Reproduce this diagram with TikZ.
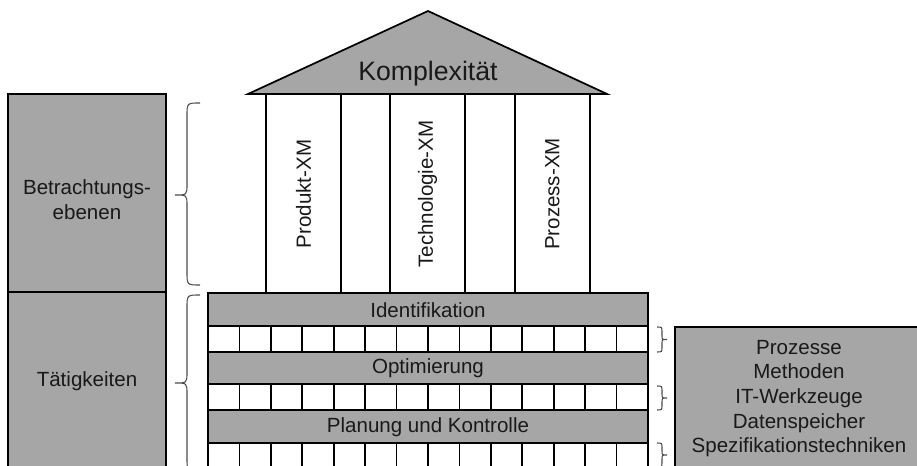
\documentclass[tikz,border=0pt]{standalone}
\usepackage{fontspec}
\setmainfont{Liberation Sans}
\begin{document}
\begin{tikzpicture}[x=0.75pt,y=-0.75pt,
  box/.style={draw=black,line width=1.3pt,fill=boxgray},
  cell/.style={draw=black,line width=1.3pt,fill=white},
  txt/.style={font=\fontsize{15.4pt}{18.7pt}\selectfont,text=black!90,inner sep=0pt,align=center},
  brc/.style={draw=black!70,line width=0.8pt}]
\definecolor{boxgray}{HTML}{A6A6A6}
\useasboundingbox (0,0) rectangle (917,466);
\clip (0,0) rectangle (917,466);

% left category boxes
\draw[box] (8,94) rectangle (166,292);
\draw[box] (8,292) rectangle (166,475);
\node[txt] (betr) at (87,200) {Betrachtungs-\\ebenen};
\node[txt] (taet) at (87,381) {Tätigkeiten};

% braces to the left of the temple
\draw[brc] (200,103) .. controls (187,103) .. (187,116) -- (187,184)
  .. controls (187,195) .. (175,195) .. controls (187,195) .. (187,206)
  -- (187,272) .. controls (187,285) .. (200,285);
\draw[brc] (200,295) .. controls (187,295) .. (187,308) -- (187,372)
  .. controls (187,383) .. (175,383) .. controls (187,383) .. (187,394)
  -- (187,458) .. controls (187,471) .. (200,471);

% roof
\draw[box] (248,94) -- (428,11) -- (607,94) -- cycle;
\node[txt,font=\fontsize{20pt}{24pt}\selectfont] (roof) at (428,74) {Komplexität};

% pillars
\draw[cell] (266,94) rectangle (341,293);
\draw[cell] (390,94) rectangle (465,293);
\draw[cell] (515,94) rectangle (590,293);
\node[txt,rotate=90] (p1) at (303.5,194) {Produkt-XM};
\node[txt,rotate=90] (p2) at (427.5,194) {Technologie-XM};
\node[txt,rotate=90] (p3) at (552.5,194) {Prozess-XM};

% activity bars with rows of cells
\draw[box] (208,293) rectangle (648,326);
\draw[box] (208,352) rectangle (648,384);
\draw[box] (208,410) rectangle (648,443);
\foreach \r/\a/\b in {1/326/352,2/384/410,3/443/475}{
  \foreach \i in {0,...,13}{
    \draw[cell] ({208+\i*440/14},\a) rectangle ({208+(\i+1)*440/14},\b);
  }
}
\node[txt] (ident) at (428,310) {Identifikation};
\node[txt] (opti) at (428,368) {Optimierung};
\node[txt] (plan) at (428,427) {Planung und Kontrolle};

% small braces to the right of the cell rows
\draw[brc] (657,327) .. controls (662,327) .. (662,332) -- (662,336)
  .. controls (662,339.5) .. (667,339.5) .. controls (662,339.5) .. (662,343)
  -- (662,347) .. controls (662,352) .. (657,352);
\draw[brc] (657,386) .. controls (662,386) .. (662,391) -- (662,394)
  .. controls (662,398) .. (667,398) .. controls (662,398) .. (662,402)
  -- (662,405) .. controls (662,410) .. (657,410);
\draw[brc] (657,443) .. controls (662,443) .. (662,448) -- (662,451)
  .. controls (662,455) .. (667,455) .. controls (662,455) .. (662,459)
  -- (662,462) .. controls (662,467) .. (657,467);

% resources box
\draw[box] (675,327) rectangle (935,480);
\node[txt,font=\fontsize{15.4pt}{18.5pt}\selectfont] (res) at (799,398.5)
  {Prozesse\\Methoden\\IT-Werkzeuge\\Datenspeicher\\Spezifikationstechniken};
\end{tikzpicture}
\end{document}
